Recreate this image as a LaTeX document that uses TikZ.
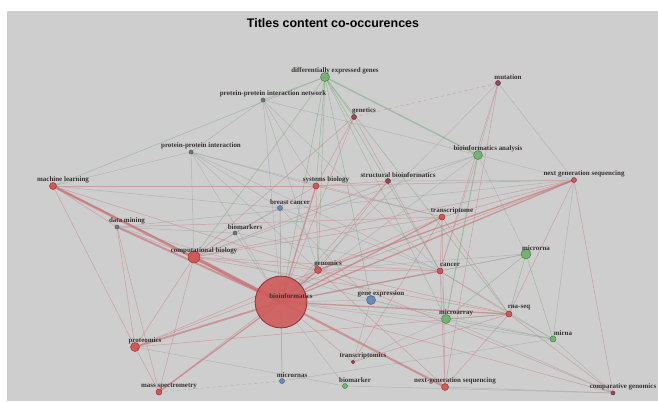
\documentclass[tikz,border=0pt]{standalone}
\usepackage{fontspec}
\setmainfont{Liberation Serif}
\newfontfamily\ttlfont{Liberation Sans}
\usepackage{tikz}
\usetikzlibrary{calc}
\definecolor{bggray}{RGB}{206,206,206}
\definecolor{kred}{RGB}{208,88,88}
\definecolor{kredd}{RGB}{150,55,60}
\definecolor{kmar}{RGB}{150,72,92}
\definecolor{kgreen}{RGB}{118,178,118}
\definecolor{kgreend}{RGB}{70,130,70}
\definecolor{kblue}{RGB}{105,140,185}
\definecolor{kgray}{RGB}{112,118,128}
\definecolor{ered}{RGB}{200,110,115}
\definecolor{egray}{RGB}{155,158,162}
\definecolor{egreen}{RGB}{115,168,115}
\definecolor{labtext}{RGB}{55,50,50}
\pgfdeclarelayer{bg}
\pgfdeclarelayer{edges}
\pgfsetlayers{bg,edges,main}
\newcommand{\kw}[5]{%
  \node[#2] (#1) at (#3,#4) {};
  \node[klab] (#1-l) at ([shift={(10,-6)}]#1.center) {#5};}
\tikzset{
  dot/.style={circle, inner sep=0pt, line width=0.5pt},
  rdot/.style={dot, fill=kred, draw=kredd, minimum size=#1},
  mdot/.style={dot, fill=kmar, draw=kmar!70!black, minimum size=#1},
  gdot/.style={dot, fill=kgreen, draw=kgreend, minimum size=#1},
  bdot/.style={dot, fill=kblue, draw=kblue!70!black, minimum size=#1},
  sdot/.style={dot, fill=kgray, draw=kgray!70!black, minimum size=#1},
  klab/.style={font=\fontsize{7}{8}\selectfont\bfseries, text=labtext, inner sep=0pt},
  ttl/.style={font=\ttlfont\fontsize{12.5}{14}\selectfont\bfseries, text=black},
  er/.style={ered, line width=0.5pt, opacity=0.5},
  eg/.style={egray, line width=0.5pt, opacity=0.55},
  egr/.style={egreen, line width=0.6pt, opacity=0.5},
  emid/.style={ered, line width=1.3pt, opacity=0.6},
  ethick/.style={ered, line width=#1, opacity=0.6},
}
\begin{document}
\begin{tikzpicture}[x=1bp, y=-1bp]
\begin{pgfonlayer}{bg}
  \fill[white] (0,0) rectangle (658,401);
  \fill[bggray] (7,11) rectangle (658,401);
\end{pgfonlayer}
\node[ttl] (title) at (333,23) {Titles content co-occurences};
% keywords
\kw{bio}{rdot=52pt, fill opacity=0.88, line width=0.9pt}{281}{302}{bioinformatics}
\kw{compbio}{rdot=12pt}{194}{257}{computational biology}
\kw{proteomics}{rdot=9pt}{135}{347}{proteomics}
\kw{massspec}{rdot=6pt}{159}{392}{mass spectrometry}
\kw{ml}{rdot=7pt}{53}{186}{machine learning}
\kw{dm}{sdot=4pt}{117}{227}{data mining}
\kw{ppi}{sdot=4pt}{191}{152}{protein-protein interaction}
\kw{ppin}{sdot=4pt}{263}{100}{protein-protein interaction network}
\kw{deg}{gdot=9pt}{325}{77}{differentially expressed genes}
\kw{genetics}{mdot=5pt}{354}{117}{genetics}
\kw{mutation}{mdot=5pt}{498}{83}{mutation}
\kw{sysbio}{rdot=6pt}{316}{186}{systems biology}
\kw{strucbio}{mdot=5pt}{388}{181}{structural bioinformatics}
\kw{bc}{bdot=5pt}{280}{208}{breast cancer}
\kw{biomarkers}{sdot=4pt}{235}{233}{biomarkers}
\kw{genomics}{rdot=7pt}{318}{270}{genomics}
\kw{geneexpr}{bdot=9pt}{371}{300}{gene expression}
\kw{ba}{gdot=9pt}{478}{155}{bioinformatics analysis}
\kw{ngs}{rdot=5pt}{574}{180}{next generation sequencing}
\kw{transcriptome}{rdot=6pt}{442}{217}{transcriptome}
\kw{microrna}{gdot=10pt}{526}{254}{microrna}
\kw{cancer}{rdot=6pt}{440}{271}{cancer}
\kw{microarray}{gdot=9pt}{446}{319}{microarray}
\kw{rnaseq}{rdot=6pt}{509}{314}{rna-seq}
\kw{mirna}{gdot=6pt}{553}{339}{mirna}
\kw{transcriptomics}{mdot=3.5pt}{353}{362}{transcriptomics}
\kw{micrornas}{bdot=5pt}{282}{381}{micrornas}
\kw{biomarker}{gdot=5pt}{345}{386}{biomarker}
\kw{nextgen}{rdot=7pt}{445}{387}{next-generation sequencing}
\kw{compgen}{mdot=4pt}{613}{393}{comparative genomics}
% co-occurrence links
\begin{pgfonlayer}{edges}
\draw[ethick=2.6pt] (ml.center) -- (bio.center);
\draw[ethick=2pt] (dm.center) -- (bio.center);
\draw[ethick=3.2pt] (compbio.center) -- (bio.center);
\draw[ethick=2.2pt] (bio.center) -- (nextgen.center);
\draw[ethick=1.8pt] (proteomics.center) -- (bio.center);
\foreach \a/\b in {ml/compbio, bio/ngs, bio/sysbio, bio/genomics, bio/transcriptome,
    bio/rnaseq, bio/massspec, bio/cancer, ngs/genomics}
  \draw[emid] (\a.center) -- (\b.center);
\foreach \a/\b in {ml/proteomics, ml/dm, ml/sysbio, ml/genomics, dm/proteomics,
    dm/massspec, dm/compbio, dm/transcriptome, compbio/proteomics, compbio/massspec,
    compbio/sysbio, compbio/genomics, compbio/transcriptome, compbio/genetics,
    compbio/cancer, compbio/ngs, compbio/rnaseq, compbio/strucbio, proteomics/massspec,
    proteomics/genomics, proteomics/rnaseq, proteomics/ngs, massspec/genomics,
    genetics/bio, genetics/sysbio, genetics/cancer, sysbio/genomics,
    sysbio/transcriptome, sysbio/strucbio, sysbio/ngs, strucbio/bio, strucbio/genomics,
    genomics/transcriptome, genomics/cancer, genomics/rnaseq, genomics/nextgen,
    transcriptome/cancer, transcriptome/rnaseq, transcriptome/nextgen,
    transcriptome/ngs, transcriptome/transcriptomics, cancer/nextgen, cancer/rnaseq,
    cancer/mutation, rnaseq/nextgen, rnaseq/compgen, rnaseq/transcriptomics,
    ngs/compgen, ngs/rnaseq, mutation/nextgen, compgen/bio, compgen/genomics,
    bio/transcriptomics}
  \draw[er] (\a.center) -- (\b.center);
\draw[er, dashed] (genetics.center) -- (mutation.center);
\foreach \a/\b in {ppi/ml, ppi/compbio, ppi/bio, ppi/genomics, ppi/sysbio, ppi/cancer,
    ppi/bc, ppi/ppin, ppi/transcriptome, ppin/bio, ppin/genomics, ppin/sysbio,
    ppin/cancer, ppin/ba, bc/micrornas, bc/bio, bc/biomarkers, bc/cancer, bc/geneexpr,
    bc/ml, biomarkers/bio, biomarkers/compbio, biomarkers/dm, biomarkers/cancer,
    mutation/bio, mutation/ngs, mutation/ba, ba/ngs, ba/strucbio, ba/bio, ba/microrna,
    ba/cancer, ba/compbio, geneexpr/bio, geneexpr/mirna, geneexpr/microarray,
    geneexpr/dm, micrornas/bio, micrornas/mirna, biomarker/bio, biomarker/compgen,
    biomarker/proteomics, nextgen/compgen, mirna/compgen, mirna/rnaseq, mirna/bio,
    mirna/cancer, mirna/ngs, microrna/cancer, microrna/bio, microrna/genomics,
    transcriptomics/microarray, transcriptomics/geneexpr, microarray/bio,
    microarray/compgen, microarray/cancer, strucbio/ngs, dm/ngs}
  \draw[eg] (\a.center) -- (\b.center);
\draw[eg, dashed] (massspec.center) -- (micrornas.center);
\draw[egr, line width=1.4pt] (deg.center) -- (ba.center);
\draw[egr, line width=1pt] (ba.center) -- (microarray.center);
\foreach \a/\b in {deg/ppin, deg/ml, deg/genetics, deg/sysbio, deg/bio, deg/compbio,
    deg/genomics, deg/microarray, deg/cancer, deg/geneexpr, deg/rnaseq,
    microrna/microarray, microrna/rnaseq, microarray/rnaseq, mirna/microarray,
    mirna/microrna}
  \draw[egr] (\a.center) -- (\b.center);
\end{pgfonlayer}
\end{tikzpicture}
\end{document}
